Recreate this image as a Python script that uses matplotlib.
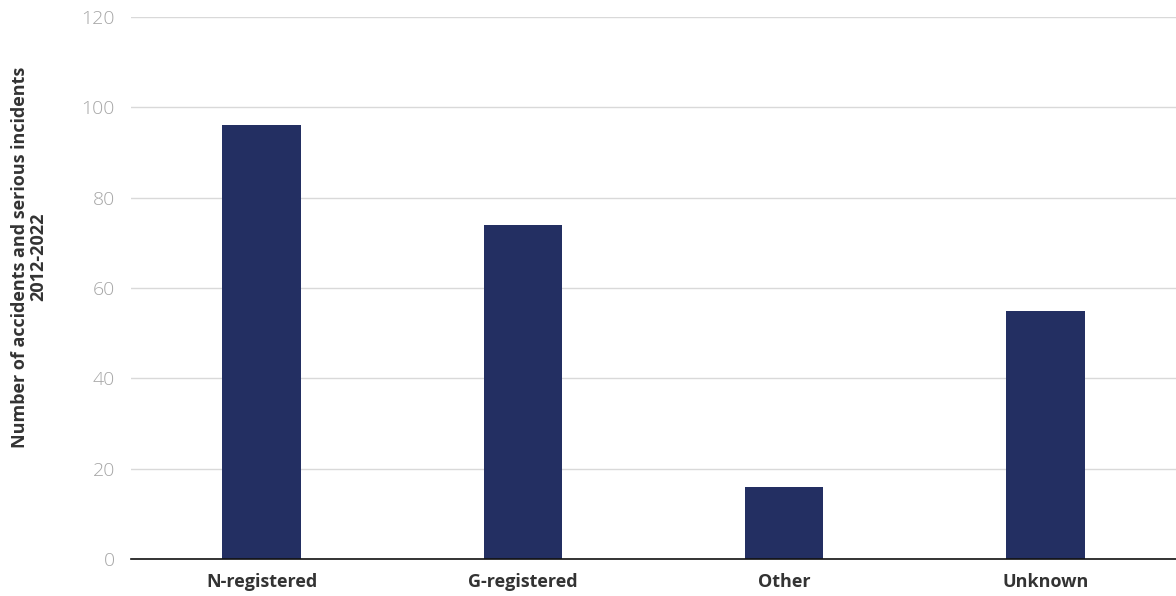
import matplotlib
matplotlib.use("Agg")
import matplotlib.pyplot as plt

categories = ["N-registered", "G-registered", "Other", "Unknown"]
values = [96, 74, 16, 55]
yticks = [0, 20, 40, 60, 80, 100, 120]

plt.rcParams['font.family'] = ['Open Sans', 'DejaVu Sans']

fig = plt.figure(figsize=(11.76, 5.96), dpi=100)
ax = fig.add_axes([131/1176, 37/596, 1 - 131/1176, (559-17)/596])

x = range(len(categories))
ax.bar(x, values, width=0.3, color="#232F62", zorder=3)
ax.set_xlim(-0.5, 3.5)
ax.set_ylim(0, 120)
ax.set_yticks(yticks)
ax.set_xticks(list(x))
ax.set_xticklabels(categories, fontsize=13, fontweight="bold", color="#333333")
ax.tick_params(axis="y", labelsize=14, length=0, pad=11.5)
ax.tick_params(axis="x", length=0, pad=10)
for lbl in ax.get_yticklabels():
    lbl.set_color("#A6A6A6")
    lbl.set_fontweight(300)
ax.grid(axis="y", color="#D9D9D9", linewidth=1, zorder=0)
for s in ["top", "right", "left"]:
    ax.spines[s].set_visible(False)
ax.spines["bottom"].set_color("#111111")
ax.spines["bottom"].set_linewidth(1.2)
ax.spines["bottom"].set_zorder(4)

fig.text(0.025, 1 - 257/596, "Number of accidents and serious incidents\n2012-2022",
         rotation=90, ha="center", va="center", fontsize=13, fontweight="bold",
         color="#333333", multialignment="center", linespacing=1.0)

fig.savefig("out.png", dpi=100)
